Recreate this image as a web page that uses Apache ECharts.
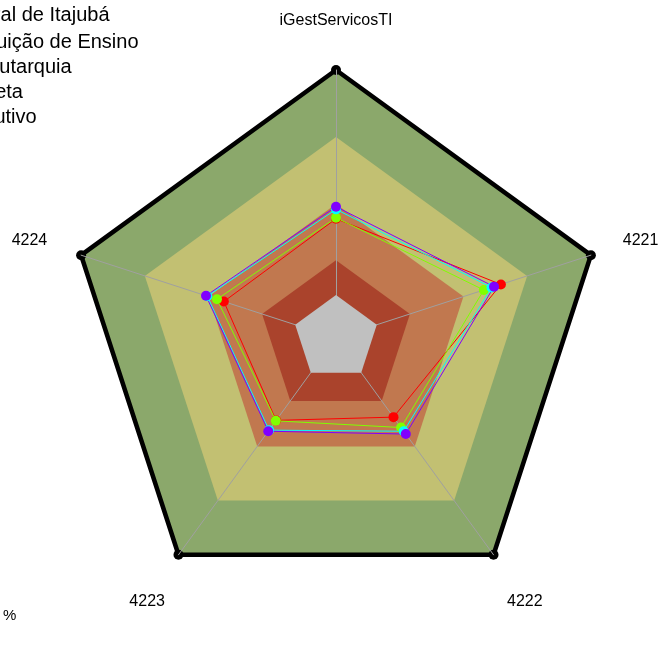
<!DOCTYPE html>
<html>
<head>
<meta charset="utf-8">
<script src="https://cdn.jsdelivr.net/npm/echarts@6/dist/echarts.min.js"></script>
<style>
  html, body { margin: 0; padding: 0; background: #fff; }
  #chart { width: 659px; height: 666px; }
</style>
</head>
<body>
<div id="chart"></div>
<script>
// Indicators, listed in the order the radar lays them out
const indicators = ['iGestServicosTI', '4224', '4223', '4222', '4221'];

// Scores (%) per indicator, same order as above
const seriesNames = ['Instituição de Ensino', 'Autarquia', 'Administração Indireta', 'Poder Executivo'];
const valuesEnsino    = [44.5, 44.0, 38.0, 36.5, 64.7];
const valuesAutarquia = [44.9, 46.7, 38.2, 41.3, 58.0];
const valuesIndireta  = [48.0, 50.5, 42.5, 43.0, 61.0];
const valuesExecutivo = [49.0, 51.0, 43.0, 44.3, 62.0];
const seriesColors = ['#ff0000', '#80ff00', '#00ffff', '#8000ff'];

// Maturity bands (upper bound in %), outermost first
const bandLevels = [100, 75, 50, 29, 16];
const bandColors = ['#8ba86b', '#c2c072', '#c1784f', '#aa432c', '#c0c0c0'];
const scaleMax = 100;

const headerText = 'Universidade Federal de Itajubá';
const unitText = '%';

const FONT = 'Liberation Sans, Arial, sans-serif';

// Filled bands; the innermost one sits above the axis lines
const bandSeries = bandLevels.map((lvl, i) => ({
  type: 'radar',
  z: i === bandLevels.length - 1 ? 4 : 1,
  silent: true,
  symbol: 'none',
  lineStyle: { width: 0, opacity: 0 },
  areaStyle: { color: bandColors[i], opacity: 1 },
  data: [{ value: indicators.map(() => lvl), name: 'band' + i }]
}));

// Heavy outline of the full scale with dots at each vertex
const outlineSeries = {
  type: 'radar',
  z: 2,
  silent: true,
  symbol: 'circle',
  symbolSize: 10,
  itemStyle: { color: '#000' },
  lineStyle: { color: '#000', width: 4.5 },
  data: [{ value: indicators.map(() => scaleMax), name: 'outline' }]
};

const dataSets = [valuesEnsino, valuesAutarquia, valuesIndireta, valuesExecutivo];
const dataSeries = dataSets.map((vals, i) => ({
  type: 'radar',
  name: seriesNames[i],
  z: 5,
  symbol: 'circle',
  symbolSize: 10,
  itemStyle: { color: seriesColors[i] },
  lineStyle: { color: seriesColors[i], width: 1 },
  data: [{ value: vals, name: seriesNames[i] }]
}));

// Each legend line is placed on its own so its text starts where needed
const legendLefts = [-65, -33, -195, -128];
const legendTops = [32, 57, 82, 107];
const legends = seriesNames.map((n, i) => ({
  data: [n],
  orient: 'vertical',
  left: legendLefts[i],
  top: legendTops[i],
  padding: 0,
  itemWidth: 14,
  itemHeight: 20,
  itemGap: 0,
  selectedMode: false,
  textStyle: { fontSize: 20, color: '#000', fontFamily: FONT, lineHeight: 20 }
}));

// Per-indicator label placement around the web
const nameSlot = { 'iGestServicosTI': 'top', '4224': 'left', '4223': 'low', '4222': 'low', '4221': 'right' };
const nameRich = {
  top:   { fontSize: 16, color: '#000', fontFamily: FONT, padding: [0, 0, 18, 0] },
  left:  { fontSize: 16, color: '#000', fontFamily: FONT, padding: [0, 12, 14, 0] },
  right: { fontSize: 16, color: '#000', fontFamily: FONT, padding: [0, 0, 14, 10] },
  low:   { fontSize: 16, color: '#000', fontFamily: FONT, padding: [56, 0, 0, 0] }
};

const chart = echarts.init(document.getElementById('chart'));
chart.setOption({
  backgroundColor: '#fff',
  animation: false,
  legend: legends,
  graphic: [
    { type: 'text', left: -174, top: 5,
      style: { text: headerText, font: '20px ' + FONT, fill: '#000' } },
    { type: 'text', left: 3, top: 608,
      style: { text: unitText, font: '15px ' + FONT, fill: '#000' } }
  ],
  radar: {
    center: [336, 338],
    radius: 268,
    startAngle: 90,
    shape: 'polygon',
    splitNumber: 1,
    z: 3,
    indicator: indicators.map(n => ({ name: n, min: 0, max: scaleMax })),
    axisName: {
      color: '#000', fontSize: 16, fontFamily: FONT,
      formatter: name => '{' + nameSlot[name] + '|' + name + '}',
      rich: nameRich
    },
    nameGap: 23,
    axisLine: { show: true, lineStyle: { color: '#a0a0a0', width: 1 } },
    splitLine: { show: false },
    splitArea: { show: false },
    axisTick: { show: false },
    axisLabel: { show: false }
  },
  series: bandSeries.concat([outlineSeries], dataSeries)
});
</script>
</body>
</html>
